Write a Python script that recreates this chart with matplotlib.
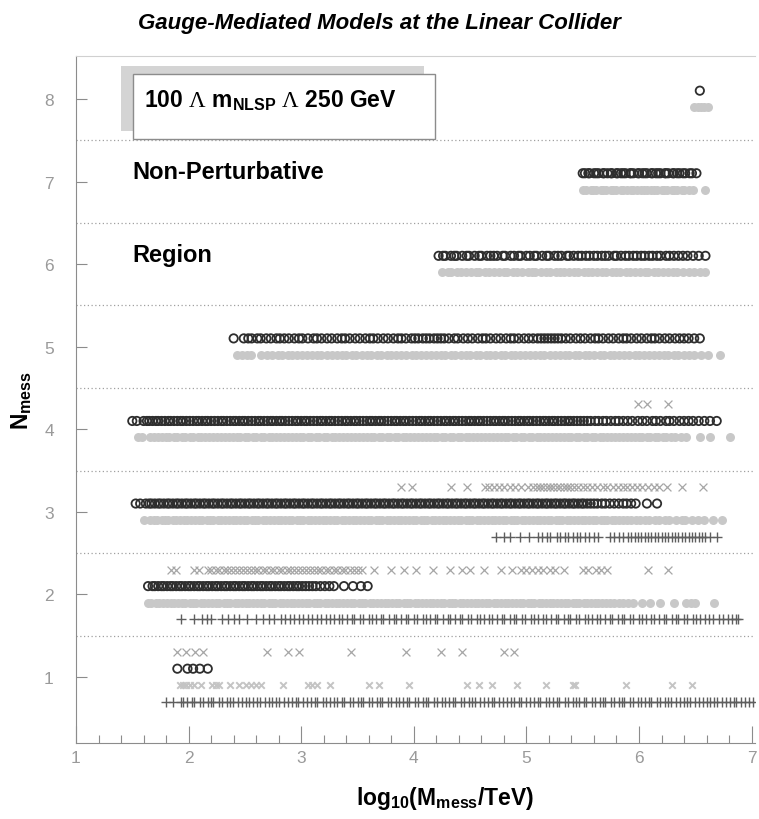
import matplotlib
matplotlib.use("Agg")
import matplotlib.pyplot as plt
from matplotlib.patches import Rectangle
from matplotlib.ticker import MultipleLocator

plt.rcParams["font.family"] = ["Liberation Sans", "DejaVu Sans"]
plt.rcParams["mathtext.fontset"] = "custom"
plt.rcParams["mathtext.bf"] = "Liberation Sans:bold"
plt.rcParams["mathtext.rm"] = "Liberation Serif"
plt.rcParams["mathtext.it"] = "Liberation Sans:italic"

# ---- model points: log10(M_mess/TeV) per messenger number ----
# open circles (upper band)
circ_8 = [6.54]
circ_7 = [5.50, 5.52, 5.55, 5.56, 5.60, 5.62, 5.64, 5.68, 5.69, 5.72, 5.75, 5.76, 5.80, 5.81,
          5.84, 5.86, 5.88, 5.92, 5.93, 5.95, 5.99, 6.00, 6.03, 6.05, 6.07, 6.11, 6.12, 6.15,
          6.17, 6.19, 6.23, 6.24, 6.26, 6.30, 6.31, 6.34, 6.36, 6.39, 6.41, 6.45, 6.47, 6.51]
circ_6 = [4.22, 4.26, 4.28, 4.33, 4.36, 4.38, 4.43, 4.47, 4.49, 4.54, 4.58, 4.60, 4.65, 4.68,
          4.71, 4.74, 4.79, 4.81, 4.86, 4.89, 4.93, 4.95, 5.00, 5.03, 5.07, 5.09, 5.14, 5.18,
          5.20, 5.25, 5.28, 5.31, 5.36, 5.38, 5.42, 5.46, 5.49, 5.53, 5.56, 5.60, 5.63, 5.67,
          5.70, 5.73, 5.78, 5.80, 5.84, 5.88, 5.91, 5.95, 5.98, 6.02, 6.05, 6.09, 6.12, 6.16,
          6.19, 6.24, 6.27, 6.31, 6.35, 6.39, 6.43, 6.48, 6.53, 6.59]
circ_5 = [2.40, 2.49, 2.53, 2.56, 2.61, 2.64, 2.69, 2.73, 2.78, 2.81, 2.85, 2.89, 2.94, 2.98,
          3.01, 3.06, 3.11, 3.14, 3.18, 3.23, 3.27, 3.32, 3.36, 3.39, 3.43, 3.48, 3.52, 3.57,
          3.61, 3.64, 3.68, 3.73, 3.77, 3.82, 3.86, 3.89, 3.93, 3.98, 4.01, 4.04, 4.08, 4.11,
          4.14, 4.18, 4.21, 4.24, 4.27, 4.31, 4.36, 4.39, 4.44, 4.48, 4.52, 4.57, 4.61, 4.64,
          4.68, 4.73, 4.77, 4.82, 4.86, 4.89, 4.93, 4.98, 5.02, 5.06, 5.10, 5.13, 5.16, 5.19,
          5.22, 5.25, 5.28, 5.31, 5.35, 5.39, 5.44, 5.48, 5.52, 5.57, 5.61, 5.64, 5.68, 5.73,
          5.77, 5.82, 5.86, 5.89, 5.93, 5.98, 6.02, 6.07, 6.11, 6.14, 6.18, 6.23, 6.27, 6.32,
          6.36, 6.40, 6.44, 6.49, 6.54]
circ_4 = [1.50, 1.54, 1.60, 1.63, 1.65, 1.68, 1.71, 1.73, 1.76, 1.79, 1.82, 1.84, 1.87, 1.90,
          1.93, 1.95, 1.98, 2.01, 2.04, 2.07, 2.09, 2.12, 2.15, 2.17, 2.20, 2.23, 2.26, 2.29,
          2.31, 2.34, 2.37, 2.40, 2.42, 2.45, 2.48, 2.50, 2.53, 2.56, 2.59, 2.62, 2.64, 2.67,
          2.70, 2.73, 2.75, 2.78, 2.81, 2.83, 2.86, 2.89, 2.92, 2.95, 2.97, 3.00, 3.03, 3.05,
          3.08, 3.11, 3.14, 3.17, 3.19, 3.22, 3.25, 3.27, 3.30, 3.33, 3.36, 3.39, 3.41, 3.44,
          3.47, 3.49, 3.52, 3.55, 3.58, 3.61, 3.63, 3.66, 3.69, 3.71, 3.74, 3.77, 3.80, 3.83,
          3.85, 3.88, 3.91, 3.93, 3.96, 3.99, 4.02, 4.05, 4.07, 4.10, 4.13, 4.15, 4.18, 4.21,
          4.24, 4.27, 4.29, 4.32, 4.35, 4.37, 4.40, 4.43, 4.46, 4.49, 4.51, 4.54, 4.57, 4.59,
          4.62, 4.65, 4.68, 4.71, 4.73, 4.76, 4.79, 4.81, 4.84, 4.87, 4.90, 4.93, 4.95, 4.98,
          5.01, 5.03, 5.06, 5.09, 5.12, 5.15, 5.17, 5.20, 5.23, 5.25, 5.28, 5.31, 5.34, 5.37,
          5.39, 5.42, 5.45, 5.48, 5.51, 5.54, 5.57, 5.61, 5.64, 5.68, 5.71, 5.75, 5.79, 5.82,
          5.86, 5.90, 5.94, 5.99, 6.03, 6.07, 6.12, 6.15, 6.19, 6.24, 6.27, 6.31, 6.36, 6.40,
          6.44, 6.48, 6.53, 6.58, 6.63, 6.69]
circ_3 = [1.53, 1.57, 1.62, 1.65, 1.67, 1.70, 1.73, 1.75, 1.78, 1.81, 1.83, 1.86, 1.89, 1.91,
          1.94, 1.97, 1.99, 2.02, 2.05, 2.07, 2.10, 2.13, 2.15, 2.18, 2.21, 2.23, 2.26, 2.29,
          2.31, 2.34, 2.37, 2.39, 2.42, 2.45, 2.47, 2.50, 2.53, 2.55, 2.58, 2.61, 2.63, 2.66,
          2.69, 2.71, 2.74, 2.77, 2.79, 2.82, 2.85, 2.87, 2.90, 2.93, 2.95, 2.98, 3.01, 3.03,
          3.06, 3.09, 3.11, 3.14, 3.17, 3.19, 3.22, 3.25, 3.27, 3.30, 3.33, 3.35, 3.38, 3.41,
          3.43, 3.46, 3.49, 3.51, 3.54, 3.57, 3.59, 3.62, 3.65, 3.67, 3.70, 3.73, 3.75, 3.78,
          3.81, 3.83, 3.86, 3.89, 3.91, 3.94, 3.97, 3.99, 4.02, 4.05, 4.07, 4.10, 4.13, 4.15,
          4.18, 4.21, 4.23, 4.26, 4.29, 4.31, 4.34, 4.37, 4.39, 4.42, 4.45, 4.47, 4.50, 4.53,
          4.55, 4.58, 4.61, 4.63, 4.66, 4.69, 4.71, 4.74, 4.77, 4.79, 4.82, 4.85, 4.87, 4.90,
          4.93, 4.95, 4.98, 5.01, 5.03, 5.06, 5.09, 5.11, 5.14, 5.17, 5.19, 5.22, 5.25, 5.27,
          5.30, 5.33, 5.35, 5.38, 5.41, 5.43, 5.46, 5.49, 5.51, 5.54, 5.57, 5.60, 5.63, 5.67,
          5.70, 5.74, 5.78, 5.82, 5.86, 5.89, 5.93, 5.97, 6.07, 6.16]
circ_2 = [1.64, 1.68, 1.70, 1.73, 1.76, 1.78, 1.81, 1.84, 1.86, 1.89, 1.92, 1.94, 1.97, 2.00,
          2.02, 2.05, 2.08, 2.10, 2.13, 2.16, 2.18, 2.21, 2.24, 2.26, 2.29, 2.32, 2.34, 2.37,
          2.40, 2.42, 2.45, 2.48, 2.50, 2.53, 2.56, 2.58, 2.61, 2.64, 2.66, 2.69, 2.72, 2.74,
          2.77, 2.80, 2.82, 2.85, 2.88, 2.90, 2.93, 2.96, 2.98, 3.01, 3.04, 3.07, 3.10, 3.13,
          3.17, 3.21, 3.25, 3.29, 3.38, 3.46, 3.53, 3.59]
circ_1 = [1.90, 1.99, 2.04, 2.10, 2.17]

# light grey points (lower band)
grey_8 = [6.49, 6.52, 6.55, 6.58, 6.61]
grey_7 = [5.50, 5.53, 5.57, 5.59, 5.62, 5.66, 5.68, 5.71, 5.75, 5.77, 5.80, 5.84, 5.86, 5.89,
          5.93, 5.95, 5.98, 6.02, 6.04, 6.07, 6.11, 6.13, 6.16, 6.20, 6.22, 6.25, 6.29, 6.31,
          6.34, 6.38, 6.40, 6.44, 6.48, 6.59]
grey_6 = [4.25, 4.30, 4.33, 4.38, 4.42, 4.46, 4.51, 4.55, 4.58, 4.63, 4.67, 4.71, 4.76, 4.80,
          4.83, 4.88, 4.92, 4.96, 5.01, 5.05, 5.08, 5.13, 5.17, 5.21, 5.26, 5.30, 5.33, 5.38,
          5.42, 5.46, 5.51, 5.55, 5.58, 5.63, 5.67, 5.71, 5.76, 5.80, 5.83, 5.88, 5.92, 5.96,
          6.01, 6.05, 6.08, 6.13, 6.17, 6.21, 6.26, 6.30, 6.34, 6.39, 6.44, 6.49, 6.54, 6.59]
grey_5 = [2.43, 2.47, 2.52, 2.55, 2.64, 2.70, 2.74, 2.79, 2.83, 2.88, 2.92, 2.96, 3.01, 3.05,
          3.10, 3.14, 3.18, 3.23, 3.27, 3.32, 3.36, 3.40, 3.45, 3.49, 3.54, 3.58, 3.62, 3.67,
          3.71, 3.76, 3.80, 3.84, 3.89, 3.93, 3.98, 4.02, 4.06, 4.11, 4.15, 4.20, 4.24, 4.28,
          4.33, 4.37, 4.42, 4.46, 4.50, 4.55, 4.59, 4.64, 4.68, 4.72, 4.77, 4.81, 4.86, 4.90,
          4.94, 4.99, 5.03, 5.08, 5.12, 5.16, 5.21, 5.25, 5.30, 5.34, 5.38, 5.43, 5.47, 5.52,
          5.56, 5.60, 5.65, 5.69, 5.74, 5.78, 5.82, 5.87, 5.91, 5.96, 6.00, 6.04, 6.09, 6.13,
          6.18, 6.22, 6.26, 6.31, 6.35, 6.40, 6.44, 6.49, 6.55, 6.61, 6.72]
grey_4 = [1.55, 1.59, 1.66, 1.69, 1.73, 1.76, 1.80, 1.83, 1.87, 1.90, 1.94, 1.97, 2.01, 2.04,
          2.08, 2.11, 2.15, 2.18, 2.22, 2.25, 2.29, 2.32, 2.36, 2.39, 2.43, 2.46, 2.50, 2.53,
          2.57, 2.60, 2.64, 2.67, 2.71, 2.74, 2.78, 2.81, 2.85, 2.88, 2.92, 2.95, 2.99, 3.02,
          3.06, 3.09, 3.13, 3.16, 3.20, 3.23, 3.27, 3.30, 3.34, 3.37, 3.41, 3.44, 3.48, 3.51,
          3.55, 3.58, 3.62, 3.65, 3.69, 3.72, 3.76, 3.79, 3.83, 3.86, 3.90, 3.93, 3.97, 4.00,
          4.04, 4.07, 4.11, 4.14, 4.18, 4.21, 4.25, 4.28, 4.32, 4.35, 4.39, 4.42, 4.46, 4.49,
          4.53, 4.56, 4.60, 4.63, 4.67, 4.70, 4.74, 4.77, 4.81, 4.84, 4.88, 4.91, 4.95, 4.98,
          5.02, 5.05, 5.09, 5.12, 5.16, 5.19, 5.23, 5.26, 5.30, 5.33, 5.37, 5.40, 5.44, 5.47,
          5.51, 5.54, 5.58, 5.61, 5.65, 5.68, 5.72, 5.75, 5.79, 5.82, 5.86, 5.89, 5.93, 5.96,
          6.00, 6.03, 6.07, 6.10, 6.14, 6.17, 6.21, 6.24, 6.28, 6.32, 6.37, 6.42, 6.54, 6.63, 6.81]
grey_3 = [1.60, 1.66, 1.69, 1.72, 1.76, 1.79, 1.82, 1.86, 1.89, 1.92, 1.96, 1.99, 2.02, 2.06,
          2.09, 2.12, 2.16, 2.19, 2.22, 2.26, 2.29, 2.32, 2.36, 2.39, 2.42, 2.46, 2.49, 2.52,
          2.56, 2.59, 2.62, 2.66, 2.69, 2.72, 2.76, 2.79, 2.82, 2.86, 2.89, 2.92, 2.96, 2.99,
          3.02, 3.06, 3.09, 3.12, 3.16, 3.19, 3.22, 3.26, 3.29, 3.32, 3.36, 3.39, 3.42, 3.46,
          3.49, 3.52, 3.56, 3.59, 3.62, 3.66, 3.69, 3.72, 3.76, 3.79, 3.82, 3.86, 3.89, 3.92,
          3.96, 3.99, 4.02, 4.06, 4.09, 4.12, 4.16, 4.19, 4.22, 4.26, 4.29, 4.32, 4.36, 4.39,
          4.42, 4.46, 4.49, 4.52, 4.56, 4.59, 4.62, 4.66, 4.69, 4.72, 4.76, 4.79, 4.82, 4.86,
          4.89, 4.92, 4.96, 4.99, 5.02, 5.06, 5.09, 5.12, 5.16, 5.19, 5.22, 5.26, 5.29, 5.32,
          5.36, 5.39, 5.42, 5.46, 5.49, 5.52, 5.56, 5.59, 5.62, 5.66, 5.69, 5.72, 5.76, 5.79,
          5.82, 5.86, 5.89, 5.93, 5.97, 6.01, 6.05, 6.09, 6.14, 6.18, 6.23, 6.27, 6.33, 6.38,
          6.41, 6.47, 6.52, 6.58, 6.66, 6.74]
grey_2 = [1.64, 1.67, 1.71, 1.74, 1.77, 1.81, 1.84, 1.87, 1.91, 1.94, 1.97, 2.01, 2.04, 2.07,
          2.11, 2.14, 2.17, 2.21, 2.24, 2.27, 2.31, 2.34, 2.37, 2.41, 2.44, 2.47, 2.51, 2.54,
          2.57, 2.61, 2.64, 2.67, 2.71, 2.74, 2.77, 2.81, 2.84, 2.87, 2.91, 2.94, 2.97, 3.01,
          3.04, 3.07, 3.11, 3.14, 3.17, 3.21, 3.24, 3.27, 3.31, 3.34, 3.37, 3.41, 3.44, 3.47,
          3.51, 3.54, 3.57, 3.61, 3.64, 3.67, 3.71, 3.74, 3.77, 3.81, 3.84, 3.87, 3.91, 3.94,
          3.97, 4.01, 4.04, 4.07, 4.11, 4.14, 4.17, 4.21, 4.24, 4.27, 4.31, 4.34, 4.37, 4.41,
          4.44, 4.47, 4.51, 4.54, 4.57, 4.61, 4.64, 4.67, 4.71, 4.74, 4.77, 4.81, 4.84, 4.87,
          4.91, 4.94, 4.97, 5.01, 5.04, 5.07, 5.11, 5.14, 5.17, 5.21, 5.24, 5.27, 5.31, 5.34,
          5.37, 5.41, 5.44, 5.47, 5.51, 5.54, 5.57, 5.61, 5.64, 5.67, 5.71, 5.74, 5.78, 5.82,
          5.86, 5.90, 5.95, 6.03, 6.10, 6.19, 6.31, 6.42, 6.46, 6.50, 6.67]
grey_1 = [1.92, 1.95, 1.98, 2.01, 2.05, 2.11, 2.21, 2.24, 2.27, 2.37, 2.45, 2.51, 2.55, 2.60,
          2.64, 2.84, 3.06, 3.10, 3.14, 3.26, 3.60, 3.69, 3.96, 4.47, 4.58, 4.69, 4.92, 5.17,
          5.41, 5.43, 5.88, 6.29, 6.47]

# crosses (top band)
cross_4 = [5.99, 6.07, 6.26]
cross_3 = [3.89, 3.98, 4.33, 4.47, 4.63, 4.67, 4.71, 4.76, 4.80, 4.85, 4.90, 4.95, 5.01, 5.06,
           5.09, 5.12, 5.15, 5.18, 5.21, 5.24, 5.27, 5.30, 5.33, 5.36, 5.39, 5.42, 5.46, 5.50,
           5.54, 5.58, 5.63, 5.68, 5.72, 5.77, 5.81, 5.86, 5.89, 5.94, 5.98, 6.03, 6.08, 6.13,
           6.18, 6.25, 6.38, 6.57]
cross_2 = [1.84, 1.89, 2.05, 2.09, 2.17, 2.20, 2.24, 2.27, 2.31, 2.34, 2.38, 2.41, 2.45, 2.48,
           2.52, 2.55, 2.59, 2.62, 2.66, 2.69, 2.73, 2.76, 2.80, 2.83, 2.87, 2.90, 2.94, 2.97,
           3.01, 3.04, 3.08, 3.11, 3.15, 3.18, 3.22, 3.25, 3.29, 3.32, 3.36, 3.39, 3.43, 3.47,
           3.50, 3.54, 3.65, 3.80, 3.91, 4.02, 4.17, 4.32, 4.43, 4.50, 4.62, 4.77, 4.87, 4.95,
           5.00, 5.05, 5.10, 5.15, 5.21, 5.25, 5.33, 5.50, 5.55, 5.62, 5.66, 5.72, 6.08, 6.26]
cross_1 = [1.90, 1.98, 2.06, 2.13, 2.70, 2.88, 2.98, 3.44, 3.93, 4.24, 4.43, 4.80, 4.89]

# plus signs (bottom band)
plus_3 = [4.73, 4.80, 4.85, 4.94, 5.02, 5.10, 5.14, 5.18, 5.21, 5.27, 5.30, 5.34, 5.37, 5.41,
          5.45, 5.48, 5.52, 5.56, 5.60, 5.64, 5.74, 5.78, 5.82, 5.86, 5.90, 5.93, 5.96, 5.99,
          6.02, 6.05, 6.08, 6.11, 6.14, 6.17, 6.20, 6.23, 6.26, 6.29, 6.32, 6.35, 6.38, 6.41,
          6.44, 6.47, 6.50, 6.53, 6.56, 6.59, 6.63, 6.69]
plus_2 = [1.93, 2.05, 2.12, 2.16, 2.20, 2.30, 2.35, 2.40, 2.45, 2.52, 2.60, 2.66, 2.71, 2.76,
          2.82, 2.86, 2.90, 2.94, 2.98, 3.02, 3.06, 3.10, 3.14, 3.18, 3.22, 3.26, 3.29, 3.34,
          3.36, 3.41, 3.45, 3.47, 3.52, 3.55, 3.60, 3.63, 3.66, 3.71, 3.73, 3.78, 3.82, 3.84,
          3.89, 3.93, 3.95, 4.00, 4.03, 4.08, 4.11, 4.14, 4.19, 4.21, 4.26, 4.30, 4.32, 4.37,
          4.41, 4.43, 4.48, 4.51, 4.56, 4.59, 4.62, 4.67, 4.69, 4.74, 4.78, 4.80, 4.85, 4.89,
          4.91, 4.96, 4.99, 5.04, 5.07, 5.10, 5.15, 5.17, 5.22, 5.26, 5.28, 5.33, 5.37, 5.39,
          5.44, 5.47, 5.52, 5.55, 5.58, 5.63, 5.65, 5.70, 5.74, 5.76, 5.81, 5.85, 5.87, 5.92,
          5.95, 6.00, 6.03, 6.06, 6.11, 6.13, 6.18, 6.22, 6.24, 6.29, 6.33, 6.35, 6.40, 6.43,
          6.48, 6.51, 6.54, 6.59, 6.62, 6.66, 6.71, 6.75, 6.79, 6.83, 6.86, 6.88]
plus_1 = [1.80, 1.86, 1.93, 1.95, 1.99, 2.03, 2.05, 2.10, 2.13, 2.17, 2.20, 2.22, 2.27, 2.30,
          2.34, 2.37, 2.39, 2.44, 2.47, 2.51, 2.54, 2.57, 2.61, 2.63, 2.68, 2.71, 2.74, 2.78,
          2.80, 2.85, 2.88, 2.92, 2.95, 2.97, 3.02, 3.05, 3.09, 3.12, 3.14, 3.19, 3.22, 3.26,
          3.29, 3.32, 3.36, 3.38, 3.43, 3.46, 3.50, 3.53, 3.55, 3.60, 3.63, 3.67, 3.70, 3.72,
          3.77, 3.80, 3.84, 3.87, 3.90, 3.94, 3.96, 4.01, 4.04, 4.08, 4.11, 4.13, 4.18, 4.21,
          4.25, 4.28, 4.31, 4.35, 4.37, 4.42, 4.45, 4.49, 4.52, 4.54, 4.59, 4.62, 4.66, 4.69,
          4.71, 4.76, 4.79, 4.83, 4.86, 4.89, 4.93, 4.95, 5.00, 5.03, 5.07, 5.10, 5.12, 5.17,
          5.20, 5.24, 5.27, 5.29, 5.34, 5.37, 5.41, 5.44, 5.47, 5.51, 5.53, 5.58, 5.61, 5.65,
          5.68, 5.70, 5.75, 5.78, 5.82, 5.85, 5.87, 5.92, 5.95, 5.99, 6.02, 6.05, 6.09, 6.11,
          6.16, 6.19, 6.23, 6.26, 6.28, 6.33, 6.36, 6.40, 6.43, 6.45, 6.50, 6.53, 6.57, 6.60,
          6.63, 6.67, 6.69, 6.74, 6.77, 6.81, 6.84, 6.86, 6.91, 6.94, 6.98, 7.01]

n_values = [1, 2, 3, 4, 5, 6, 7, 8]
circles = {1: circ_1, 2: circ_2, 3: circ_3, 4: circ_4, 5: circ_5, 6: circ_6, 7: circ_7, 8: circ_8}
greys = {1: grey_1, 2: grey_2, 3: grey_3, 4: grey_4, 5: grey_5, 6: grey_6, 7: grey_7, 8: grey_8}
crosses = {1: cross_1, 2: cross_2, 3: cross_3, 4: cross_4}
pluses = {1: plus_1, 2: plus_2, 3: plus_3}

fig = plt.figure(figsize=(7.59, 8.20), dpi=100)
ax = fig.add_axes([76 / 759, 76 / 820, 679 / 759, 687 / 820])
ax.set_xlim(1, 7.03)
ax.set_ylim(0.2, 8.52)

# separators between messenger numbers
for n in n_values[:-1]:
    ax.axhline(n + 0.5, color="#a0a0a0", lw=0.9, ls=(0, (1, 2)), zorder=1)

# light grey band: solid blobs where dense, small crosses where sparse
for n in n_values:
    xs = greys[n]
    y = [n - 0.1] * len(xs)
    if n == 1:
        ax.scatter(xs, y, marker="x", s=22, lw=1.4, color="#c4c4c4", zorder=2)
    else:
        ax.scatter(xs, y, marker="o", s=42, lw=0, color="#c8c8c8", zorder=2)
for n in n_values:
    xs = circles[n]
    ax.scatter(xs, [n + 0.1] * len(xs), marker="o", s=36, facecolors="none",
               edgecolors="#2e2e2e", lw=1.3, zorder=3)
for n, xs in crosses.items():
    ax.scatter(xs, [n + 0.3] * len(xs), marker="x", s=32, lw=0.9, color="#a6a6a6", zorder=2)
for n, xs in pluses.items():
    ax.scatter(xs, [n - 0.3] * len(xs), marker="+", s=55, lw=1.0, color="#5e5e5e", zorder=2)

# axes styling
ax.spines["right"].set_visible(False)
ax.spines["top"].set_color("#d0d0d0")
ax.spines["left"].set_color("#8c8c8c")
ax.spines["bottom"].set_color("#8c8c8c")
ax.set_xticks(range(1, 8))
ax.xaxis.set_minor_locator(MultipleLocator(0.2))
ax.set_yticks(n_values)
ax.tick_params(axis="x", which="major", direction="in", length=12, width=0.8,
               color="#8c8c8c", labelcolor="#9a9a9a", labelsize=12.5, pad=5)
ax.tick_params(axis="x", which="minor", direction="in", length=6, width=0.8, color="#8c8c8c")
ax.tick_params(axis="y", which="major", direction="in", length=8, width=0.8,
               color="#8c8c8c", labelcolor="#9a9a9a", labelsize=12.5, pad=16)

ax.set_xlabel(r"log$_{\mathbf{10}}$(M$_{\mathbf{mess}}$/TeV)", fontsize=16.5, fontweight="bold")
ax.xaxis.set_label_coords(0.543, -0.060)
ax.set_ylabel(r"N$_{\mathbf{mess}}$", fontsize=16.5, fontweight="bold")
ax.yaxis.set_label_coords(-0.062, 0.5)

fig.text(0.5, 1 - 23 / 820, "Gauge-Mediated Models at the Linear Collider", ha="center",
         va="center", fontsize=16, fontweight="bold", fontstyle="italic")

# mass-window box with drop shadow
ax.add_patch(Rectangle((1.40, 7.61), 2.69, 0.79, facecolor="#d4d4d4", edgecolor="none",
                       zorder=5, clip_on=False))
ax.add_patch(Rectangle((1.505, 7.515), 2.685, 0.785, facecolor="white", edgecolor="#8c8c8c",
                       lw=1.0, zorder=6, clip_on=False))
ax.text(1.60, 7.99, r"100 $\Lambda$ m$_{\mathbf{NLSP}}$ $\Lambda$ 250 GeV", fontsize=16.5,
        fontweight="bold", va="center", ha="left", zorder=7)

ax.text(1.50, 7.12, "Non-Perturbative", fontsize=17, fontweight="bold", va="center", ha="left")
ax.text(1.50, 6.11, "Region", fontsize=17, fontweight="bold", va="center", ha="left")

fig.savefig("out.png", dpi=100)
